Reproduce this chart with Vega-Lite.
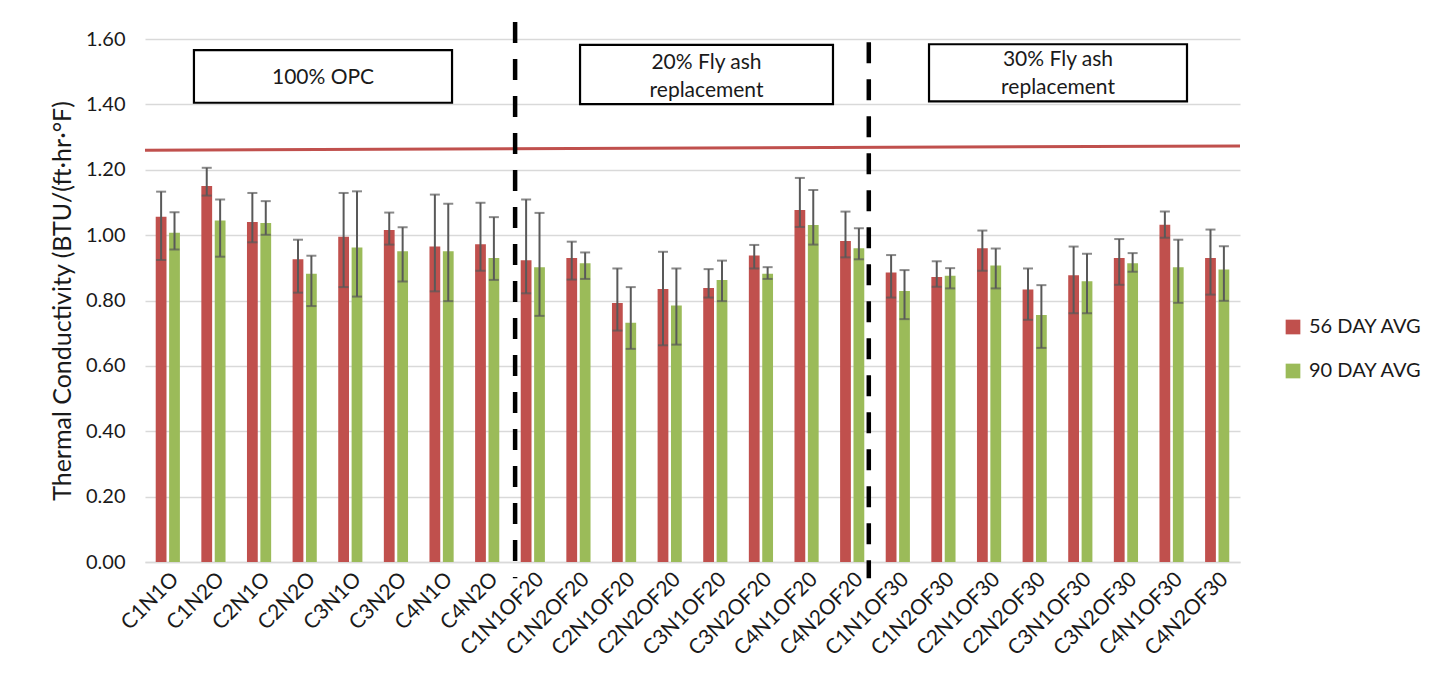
{
  "$schema": "https://vega.github.io/schema/vega-lite/v6.json",
  "width": 1095,
  "height": 523,
  "autosize": {"type": "none"},
  "padding": {"left": 145, "top": 39, "right": 210, "bottom": 122},
  "background": "white",
  "config": {"view": {"stroke": null}, "font": "Lato"},
  "datasets": {
    "bars": [
      {"cat": "C1N1O", "series": "56 DAY AVG", "v": 1.056, "lo": 0.924, "hi": 1.133},
      {"cat": "C1N1O", "series": "90 DAY AVG", "v": 1.007, "lo": 0.956, "hi": 1.070},
      {"cat": "C1N2O", "series": "56 DAY AVG", "v": 1.150, "lo": 1.121, "hi": 1.206},
      {"cat": "C1N2O", "series": "90 DAY AVG", "v": 1.045, "lo": 0.934, "hi": 1.109},
      {"cat": "C2N1O", "series": "56 DAY AVG", "v": 1.040, "lo": 0.978, "hi": 1.129},
      {"cat": "C2N1O", "series": "90 DAY AVG", "v": 1.037, "lo": 1.001, "hi": 1.104},
      {"cat": "C2N2O", "series": "56 DAY AVG", "v": 0.926, "lo": 0.824, "hi": 0.986},
      {"cat": "C2N2O", "series": "90 DAY AVG", "v": 0.882, "lo": 0.783, "hi": 0.937},
      {"cat": "C3N1O", "series": "56 DAY AVG", "v": 0.995, "lo": 0.841, "hi": 1.129},
      {"cat": "C3N1O", "series": "90 DAY AVG", "v": 0.962, "lo": 0.812, "hi": 1.134},
      {"cat": "C3N2O", "series": "56 DAY AVG", "v": 1.016, "lo": 0.971, "hi": 1.069},
      {"cat": "C3N2O", "series": "90 DAY AVG", "v": 0.951, "lo": 0.858, "hi": 1.024},
      {"cat": "C4N1O", "series": "56 DAY AVG", "v": 0.965, "lo": 0.828, "hi": 1.124},
      {"cat": "C4N1O", "series": "90 DAY AVG", "v": 0.951, "lo": 0.798, "hi": 1.096},
      {"cat": "C4N2O", "series": "56 DAY AVG", "v": 0.972, "lo": 0.891, "hi": 1.099},
      {"cat": "C4N2O", "series": "90 DAY AVG", "v": 0.930, "lo": 0.863, "hi": 1.055},
      {"cat": "C1N1OF20", "series": "56 DAY AVG", "v": 0.923, "lo": 0.822, "hi": 1.109},
      {"cat": "C1N1OF20", "series": "90 DAY AVG", "v": 0.902, "lo": 0.753, "hi": 1.068},
      {"cat": "C1N2OF20", "series": "56 DAY AVG", "v": 0.930, "lo": 0.864, "hi": 0.980},
      {"cat": "C1N2OF20", "series": "90 DAY AVG", "v": 0.914, "lo": 0.866, "hi": 0.947},
      {"cat": "C2N1OF20", "series": "56 DAY AVG", "v": 0.792, "lo": 0.708, "hi": 0.898},
      {"cat": "C2N1OF20", "series": "90 DAY AVG", "v": 0.732, "lo": 0.652, "hi": 0.841},
      {"cat": "C2N2OF20", "series": "56 DAY AVG", "v": 0.835, "lo": 0.663, "hi": 0.949},
      {"cat": "C2N2OF20", "series": "90 DAY AVG", "v": 0.785, "lo": 0.665, "hi": 0.898},
      {"cat": "C3N1OF20", "series": "56 DAY AVG", "v": 0.838, "lo": 0.809, "hi": 0.896},
      {"cat": "C3N1OF20", "series": "90 DAY AVG", "v": 0.863, "lo": 0.798, "hi": 0.922},
      {"cat": "C3N2OF20", "series": "56 DAY AVG", "v": 0.938, "lo": 0.898, "hi": 0.970},
      {"cat": "C3N2OF20", "series": "90 DAY AVG", "v": 0.882, "lo": 0.866, "hi": 0.902},
      {"cat": "C4N1OF20", "series": "56 DAY AVG", "v": 1.077, "lo": 1.025, "hi": 1.175},
      {"cat": "C4N1OF20", "series": "90 DAY AVG", "v": 1.031, "lo": 0.971, "hi": 1.138},
      {"cat": "C4N2OF20", "series": "56 DAY AVG", "v": 0.982, "lo": 0.932, "hi": 1.072},
      {"cat": "C4N2OF20", "series": "90 DAY AVG", "v": 0.960, "lo": 0.926, "hi": 1.021},
      {"cat": "C1N1OF30", "series": "56 DAY AVG", "v": 0.886, "lo": 0.809, "hi": 0.939},
      {"cat": "C1N1OF30", "series": "90 DAY AVG", "v": 0.829, "lo": 0.743, "hi": 0.893},
      {"cat": "C1N2OF30", "series": "56 DAY AVG", "v": 0.872, "lo": 0.842, "hi": 0.920},
      {"cat": "C1N2OF30", "series": "90 DAY AVG", "v": 0.876, "lo": 0.837, "hi": 0.899},
      {"cat": "C2N1OF30", "series": "56 DAY AVG", "v": 0.960, "lo": 0.891, "hi": 1.014},
      {"cat": "C2N1OF30", "series": "90 DAY AVG", "v": 0.907, "lo": 0.837, "hi": 0.959},
      {"cat": "C2N2OF30", "series": "56 DAY AVG", "v": 0.834, "lo": 0.741, "hi": 0.898},
      {"cat": "C2N2OF30", "series": "90 DAY AVG", "v": 0.756, "lo": 0.655, "hi": 0.847},
      {"cat": "C3N1OF30", "series": "56 DAY AVG", "v": 0.877, "lo": 0.761, "hi": 0.965},
      {"cat": "C3N1OF30", "series": "90 DAY AVG", "v": 0.859, "lo": 0.761, "hi": 0.943},
      {"cat": "C3N2OF30", "series": "56 DAY AVG", "v": 0.930, "lo": 0.848, "hi": 0.988},
      {"cat": "C3N2OF30", "series": "90 DAY AVG", "v": 0.914, "lo": 0.888, "hi": 0.945},
      {"cat": "C4N1OF30", "series": "56 DAY AVG", "v": 1.032, "lo": 0.992, "hi": 1.072},
      {"cat": "C4N1OF30", "series": "90 DAY AVG", "v": 0.902, "lo": 0.793, "hi": 0.986},
      {"cat": "C4N2OF30", "series": "56 DAY AVG", "v": 0.930, "lo": 0.818, "hi": 1.017},
      {"cat": "C4N2OF30", "series": "90 DAY AVG", "v": 0.895, "lo": 0.799, "hi": 0.966}
    ],
    "refline": [{"x": 0, "x2": 1, "y": 1.260, "y2": 1.273}],
    "dividers": [
      {"x": 0.338, "y": 1.652, "y2": -0.05},
      {"x": 0.661, "y": 1.59, "y2": -0.05}
    ],
    "boxes": [
      {"x": 0.0447, "x2": 0.2804, "y": 1.566, "y2": 1.405, "tx": 0.1626, "ty": 1.481, "label": "100% OPC"},
      {"x": 0.3973, "x2": 0.6283, "y": 1.582, "y2": 1.401, "tx": 0.5128, "ty": 1.526, "label": "20% Fly ash\nreplacement"},
      {"x": 0.716, "x2": 0.9516, "y": 1.584, "y2": 1.409, "tx": 0.8338, "ty": 1.536, "label": "30% Fly ash\nreplacement"}
    ]
  },
  "layer": [
    {
      "data": {"name": "bars"},
      "encoding": {
        "x": {
          "field": "cat", "type": "nominal", "sort": null,
          "scale": {"paddingInner": 0.47, "paddingOuter": 0.235},
          "axis": {
            "title": null, "labelAngle": -45, "labelFontSize": 21, "labelColor": "#1a1a1a",
            "labelPadding": 6, "ticks": false, "domainColor": "#D9D9D9", "domainWidth": 1.3,
            "labelFont": "Lato"
          }
        },
        "xOffset": {"field": "series", "type": "nominal", "scale": {"paddingInner": 0.195, "paddingOuter": 0}},
        "y": {
          "type": "quantitative",
          "scale": {"domain": [0, 1.6], "nice": false, "zero": true},
          "axis": {
            "title": "Thermal Conductivity (BTU/(ft·hr·°F)", "titleFontSize": 25, "titleFontWeight": "normal",
            "titleColor": "#1a1a1a", "titlePadding": 10, "titleFont": "Lato",
            "values": [0, 0.2, 0.4, 0.6, 0.8, 1.0, 1.2, 1.4, 1.6], "format": ".2f",
            "labelFontSize": 20, "labelColor": "#1a1a1a", "labelPadding": 20, "ticks": false,
            "domain": false, "gridColor": "#D9D9D9", "gridWidth": 1.3, "labelFont": "Lato"
          }
        }
      },
      "layer": [
        {
          "mark": {"type": "bar"},
          "encoding": {
            "y": {"field": "v", "type": "quantitative"},
            "color": {
              "field": "series", "type": "nominal",
              "scale": {"domain": ["56 DAY AVG", "90 DAY AVG"], "range": ["#C0504D", "#9BBB59"]},
              "legend": {
                "title": null, "orient": "none", "legendX": 1138, "legendY": 278,
                "symbolType": "square", "symbolSize": 216, "symbolStrokeWidth": 0,
                "labelFontSize": 20, "labelColor": "#1a1a1a", "labelFont": "Lato",
                "rowPadding": 24, "labelOffset": 6
              }
            }
          }
        },
        {
          "mark": {"type": "rule", "color": "#595959", "strokeWidth": 2},
          "encoding": {
            "y": {"field": "lo", "type": "quantitative"},
            "y2": {"field": "hi"}
          }
        },
        {
          "mark": {"type": "tick", "color": "#595959", "thickness": 2, "size": 10},
          "encoding": {"y": {"field": "lo", "type": "quantitative"}}
        },
        {
          "mark": {"type": "tick", "color": "#595959", "thickness": 2, "size": 10},
          "encoding": {"y": {"field": "hi", "type": "quantitative"}}
        }
      ]
    },
    {
      "layer": [
        {
          "data": {"name": "refline"},
          "mark": {"type": "rule", "color": "#C0504D", "strokeWidth": 3, "clip": false},
          "encoding": {
            "x": {"field": "x", "type": "quantitative", "scale": {"domain": [0, 1], "nice": false, "zero": false}, "axis": null},
            "x2": {"field": "x2"},
            "y": {"field": "y", "type": "quantitative"},
            "y2": {"field": "y2"}
          }
        },
        {
          "data": {"name": "dividers"},
          "mark": {"type": "rule", "color": "#000000", "strokeWidth": 4.5, "strokeDash": [21, 16], "clip": false},
          "encoding": {
            "x": {"field": "x", "type": "quantitative", "scale": {"domain": [0, 1], "nice": false, "zero": false}, "axis": null},
            "y": {"field": "y", "type": "quantitative"},
            "y2": {"field": "y2"}
          }
        },
        {
          "data": {"name": "boxes"},
          "mark": {"type": "rect", "fill": "white", "stroke": "#000000", "strokeWidth": 2.2, "clip": false},
          "encoding": {
            "x": {"field": "x", "type": "quantitative", "scale": {"domain": [0, 1], "nice": false, "zero": false}, "axis": null},
            "x2": {"field": "x2"},
            "y": {"field": "y", "type": "quantitative"},
            "y2": {"field": "y2"}
          }
        },
        {
          "data": {"name": "boxes"},
          "mark": {"type": "text", "fontSize": 21, "font": "Lato", "color": "#1a1a1a", "lineBreak": "\n", "lineHeight": 28, "align": "center", "baseline": "middle", "clip": false},
          "encoding": {
            "x": {"field": "tx", "type": "quantitative", "scale": {"domain": [0, 1], "nice": false, "zero": false}, "axis": null},
            "y": {"field": "ty", "type": "quantitative"},
            "text": {"field": "label"}
          }
        }
      ]
    }
  ],
  "resolve": {"scale": {"x": "independent"}}
}
